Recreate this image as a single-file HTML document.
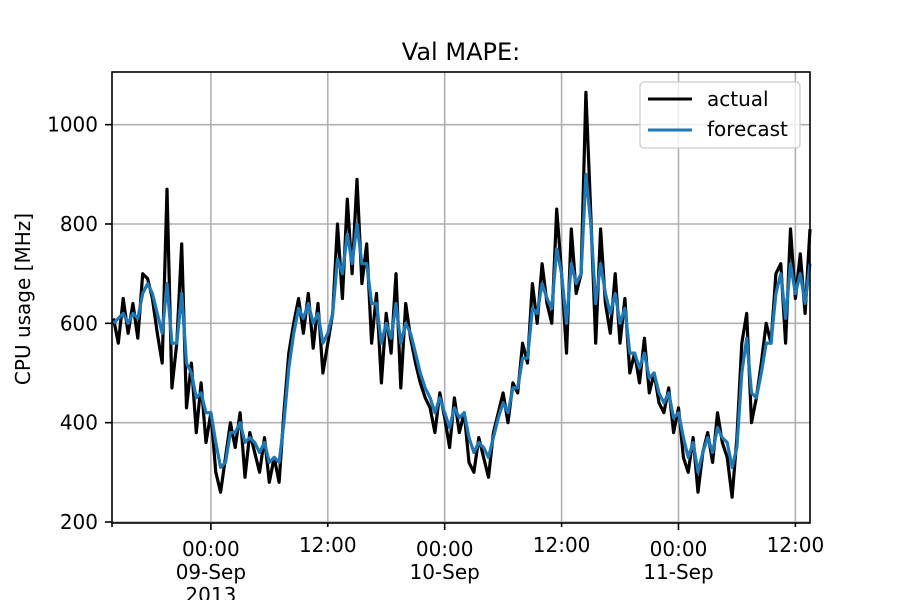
<!DOCTYPE html>
<html><head><meta charset="utf-8"><style>
html,body{margin:0;padding:0;background:#fff;}
svg{display:block;font-family:"DejaVu Sans","Liberation Sans",sans-serif;}
</style></head><body>
<svg id="chart" width="900" height="600" viewBox="0 0 900 600">
<rect width="900" height="600" fill="#fff"/>
<text x="461" y="60" font-size="24" text-anchor="middle">Val MAPE:</text>
<text transform="translate(30,299) rotate(-90)" font-size="20" text-anchor="middle">CPU usage [MHz]</text>
<g id="grid"></g>
<g id="series"></g>
<g id="axes"></g>
<g>
<rect x="640" y="82" width="160" height="66" rx="4" fill="#fff" fill-opacity="0.8" stroke="#ccc" stroke-width="1.3"/>
<line x1="648" y1="99" x2="692" y2="99" stroke="#000" stroke-width="3"/>
<text x="707" y="106" font-size="20">actual</text>
<line x1="648" y1="130" x2="692" y2="130" stroke="#1f77b4" stroke-width="3"/>
<text x="707" y="136" font-size="20">forecast</text>
</g>
</svg>
<script>
const hourStart = -10, hourStep = 0.5;
const actual = [610,560,650,580,640,570,700,690,650,580,520,870,470,560,760,430,520,380,480,360,
420,300,260,330,400,350,420,290,380,340,300,370,280,330,280,420,540,600,650,580,
660,550,640,500,560,620,800,650,850,700,890,680,760,560,660,480,620,540,700,470,
640,570,520,480,450,430,380,460,410,350,450,380,420,320,300,370,330,290,380,420,
460,400,480,460,560,520,680,600,720,640,600,830,700,540,790,660,700,1065,820,560,
790,640,580,700,560,650,500,540,480,570,460,500,440,420,470,380,430,330,300,370,
260,340,380,320,420,360,330,250,370,560,620,400,450,520,600,560,700,720,560,790,
650,740,620,790];
const forecast = [600,610,620,600,620,610,660,680,660,620,580,680,560,560,660,520,500,450,460,420,
420,360,310,320,380,380,400,360,370,360,340,360,320,330,320,400,510,580,630,610,
640,600,620,560,580,620,730,700,780,720,800,720,720,640,640,560,600,570,640,560,
600,580,540,500,470,450,420,450,420,390,430,410,420,370,340,360,350,330,370,410,
440,420,470,470,530,530,630,620,680,650,630,750,700,600,720,680,700,900,800,640,
720,660,620,660,600,630,540,540,510,540,490,500,460,440,460,410,420,370,330,360,
300,340,370,340,390,370,360,310,350,500,570,460,450,500,560,560,660,700,610,720,
660,700,640,720];
const yTicks = [200,400,600,800,1000];
const xMajorHours = [0,24,48];
const xMajorLabels = [["00:00","09-Sep","2013"],["00:00","10-Sep"],["00:00","11-Sep"]];
const xMinorHours = [12,36,60];
const xMinorLabels = ["12:00","12:00","12:00"];

const L=112,R=810,T=72,B=523;
const xMin=-10.15, xMax=61.5, yMin=198, yMax=1106;
const X=h=>L+(h-xMin)/(xMax-xMin)*(R-L);
const Y=v=>B-(v-yMin)/(yMax-yMin)*(B-T);
const NS="http://www.w3.org/2000/svg";
function mk(tag,attrs,parent){const e=document.createElementNS(NS,tag);for(const k in attrs)e.setAttribute(k,attrs[k]);parent.appendChild(e);return e;}
const grid=document.getElementById('grid'),series=document.getElementById('series'),axes=document.getElementById('axes');

yTicks.forEach(v=>{
  const g=mk('line',{x1:L,x2:R,y1:Y(v),y2:Y(v),stroke:'#b0b0b0','stroke-width':1.6},grid);
  
  
  const t=mk('line',{x1:L-7,x2:L,y1:Y(v),y2:Y(v),stroke:'#000','stroke-width':1.6},axes);
  
  
  const lb=mk('text',{x:L-14,y:Y(v)+7,'font-size':20,'text-anchor':'end'},axes);
  lb.textContent=v;
  
  
});
xMajorHours.forEach((h,i)=>{
  const g=mk('line',{x1:X(h),x2:X(h),y1:T,y2:B,stroke:'#b0b0b0','stroke-width':1.6},grid);
  
  
  const t=mk('line',{x1:X(h),x2:X(h),y1:B,y2:B+7,stroke:'#000','stroke-width':1.6},axes);
  
  
  xMajorLabels[i].forEach((s,j)=>{
    const lb=mk('text',{x:X(h),y:556+j*23,'font-size':20,'text-anchor':'middle'},axes);
    lb.textContent=s;
    
    
  });
});
xMinorHours.forEach((h,i)=>{
  const g=mk('line',{x1:X(h),x2:X(h),y1:T,y2:B,stroke:'#b0b0b0','stroke-width':1.6},grid);
  
  
  const t=mk('line',{x1:X(h),x2:X(h),y1:B,y2:B+4,stroke:'#000','stroke-width':1.6},axes);
  
  
  const lb=mk('text',{x:X(h),y:552,'font-size':20,'text-anchor':'middle'},axes);
  lb.textContent=xMinorLabels[i];
  
  
});
const lt=mk('line',{x1:L,x2:L,y1:B,y2:B+4,stroke:'#000','stroke-width':1.6},axes);



function line(arr,color,name){
  const d=arr.map((v,i)=>(i?'L':'M')+X(hourStart+i*hourStep).toFixed(1)+','+Y(v).toFixed(1)).join('');
  const p=mk('path',{d:d,fill:'none',stroke:color,'stroke-width':3.2,'stroke-linejoin':'round'},series);
  
  
}
line(actual,'#000','actual-line');
line(forecast,'#1f77b4','forecast-line');

const fr=mk('rect',{x:L,y:T,width:R-L,height:B-T,fill:'none',stroke:'#000','stroke-width':1.6},axes);


</script>
</body></html>
